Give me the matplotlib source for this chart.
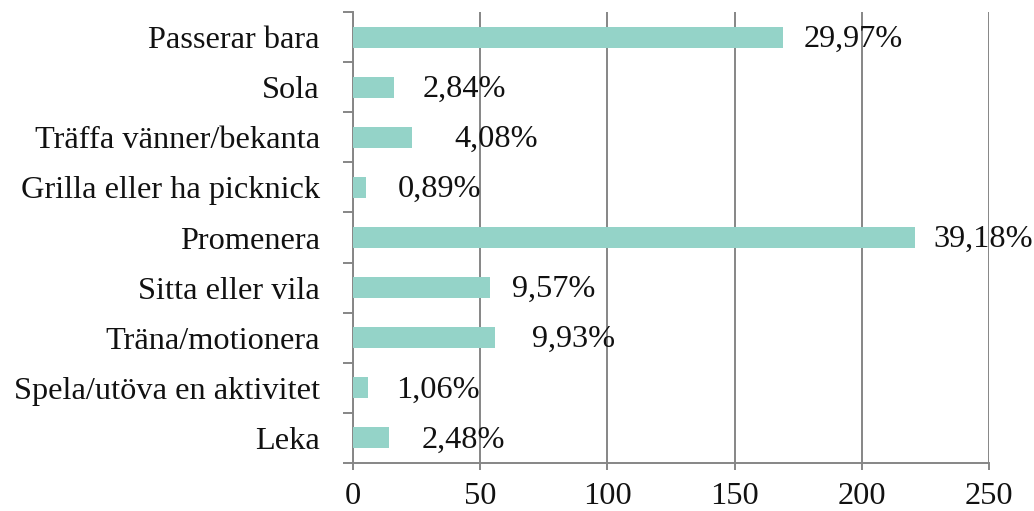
import numpy as np
import matplotlib.pyplot as plt

categories = ["Passerar bara", "Sola", "Träffa vänner/bekanta", "Grilla eller ha picknick",
              "Promenera", "Sitta eller vila", "Träna/motionera",
              "Spela/utöva en aktivitet", "Leka"]
counts = [169, 16, 23, 5, 221, 54, 56, 6, 14]
pct_labels = ["29,97%", "2,84%", "4,08%", "0,89%", "39,18%",
              "9,57%", "9,93%", "1,06%", "2,48%"]
# gap between bar end and label start, in pixels
label_gap_px = [21, 29, 43, 32, 18, 22, 37, 28, 33]

plt.rcParams['font.family'] = ['Liberation Serif', 'DejaVu Serif']
fs = 23.3
grey = "#868686"

fig = plt.figure(figsize=(10.34, 5.11), dpi=100)
ax = fig.add_axes([0.3414, 0.0939, 0.9565 - 0.3414, 0.9765 - 0.0939])

y = np.arange(len(categories))
ax.barh(y, counts, height=0.42, color="#94D3C8", zorder=3)

for yi, c, lab, gap in zip(y, counts, pct_labels, label_gap_px):
    ax.annotate(lab, xy=(c, yi), xytext=(gap * 0.72, -1.5), textcoords="offset points",
                ha="left", va="center", fontsize=fs, color="#111111", zorder=4)

ax.set_xlim(0, 250)
ax.set_ylim(len(categories) - 0.5, -0.5)
ax.set_xticks([0, 50, 100, 150, 200, 250])
ax.set_yticks(y)
ax.set_yticklabels(categories)
ax.set_yticks(np.arange(len(categories) + 1) - 0.5, minor=True)

ax.grid(axis="x", color=grey, linewidth=1.4, zorder=0)
for s in ["top", "right"]:
    ax.spines[s].set_visible(False)
for s in ["left", "bottom"]:
    ax.spines[s].set_color(grey)
    ax.spines[s].set_linewidth(1.4)

ax.tick_params(axis="y", which="major", length=0, pad=24, labelsize=fs, labelcolor="#111111")
ax.tick_params(axis="y", which="minor", length=7, width=1.4, color=grey)
ax.tick_params(axis="x", which="major", length=5, width=1.4, color=grey, pad=9,
               labelsize=fs, labelcolor="#111111")

fig.savefig("out.png", dpi=100)
